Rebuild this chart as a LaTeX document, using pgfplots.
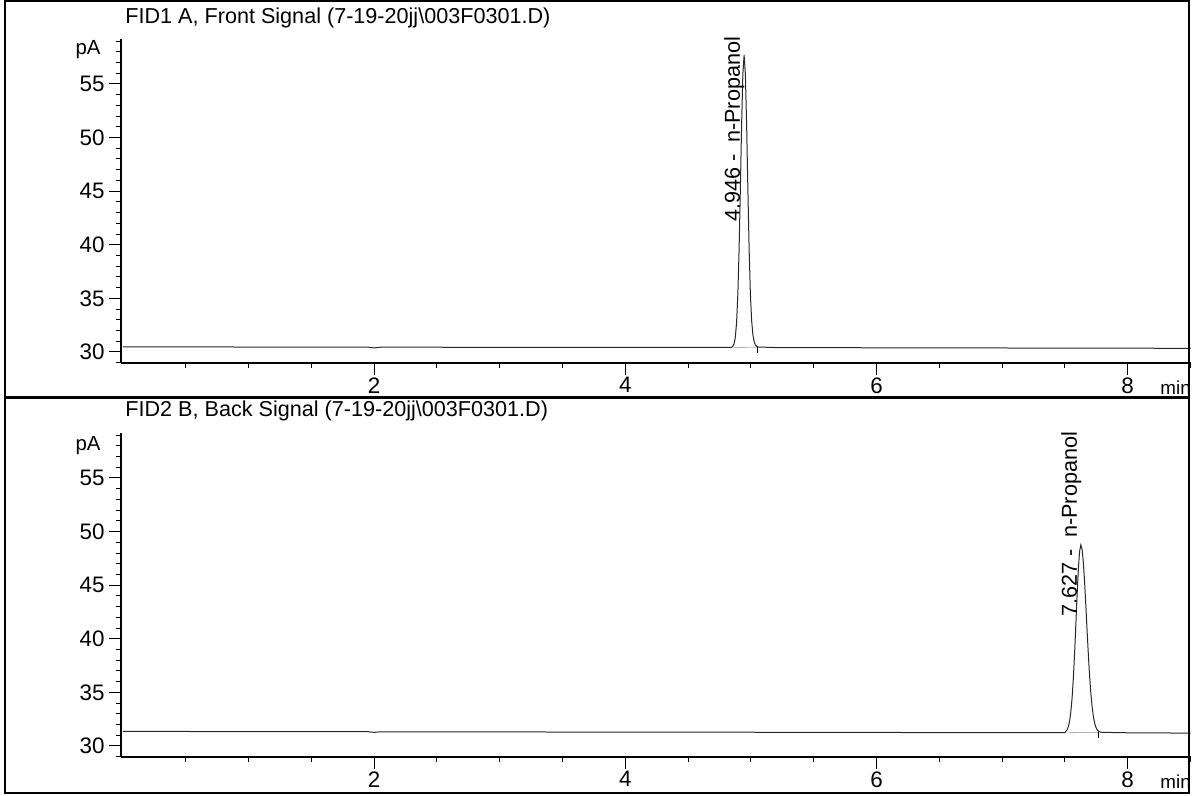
\documentclass[border=0pt]{standalone}
\usepackage{fontspec}
\setmainfont{Liberation Sans}
\usepackage{pgfplots}
\pgfplotsset{compat=1.18}
\begin{document}
\fontsize{10.8}{13}\selectfont
\begin{tikzpicture}
\pgfplotsset{
 chrom/.style={
  x=62.8pt, y=5.36pt,
  xmin=-0.015, xmax=8.5, ymin=28.97, ymax=59.2,
  axis x line=bottom, axis y line=left,
  axis line style={-, line width=0.6pt, black},
  tick align=outside,
  major tick length=5.8pt, minor tick length=2.5pt,
  tick style={line width=0.5pt, black},
  xtick={2,4,6,8}, minor xtick={0.5,1,...,8.5},
  ytick={30,35,...,55}, minor ytick={29,30,...,59},
  /pgf/number format/assume math mode=true,
  tick label style={font=\fontsize{11.2}{13}\selectfont},
  xticklabel style={inner sep=1.2pt},
  yticklabel style={inner sep=2.2pt},
  clip mode=individual,
  anchor=south west,
 }
}
% ---------- top panel ----------
\begin{axis}[chrom, at={(60.5pt,-181.5pt)}]
\addplot[gray!60, line width=0.4pt] coordinates {(4.866,30.42) (5.055,30.44)};
\addplot[black!85, line width=0.5pt] coordinates {
(0,30.48) (0.5,30.47) (1,30.46) (1.5,30.45) (1.95,30.45) (2.0,30.38) (2.05,30.44)
(2.5,30.44) (3,30.43) (3.5,30.43) (4,30.42) (4.5,30.42) (4.8,30.42) (4.846,30.43)
(4.856,30.52) (4.866,30.76) (4.876,31.37) (4.886,32.73) (4.896,35.34) (4.906,39.54)
(4.916,45.12) (4.926,51.17) (4.936,55.9) (4.946,57.7) (4.956,55.9) (4.966,51.17)
(4.976,45.12) (4.986,39.54) (4.996,35.4) (5.006,32.9) (5.016,31.6) (5.026,30.95)
(5.036,30.65) (5.046,30.52) (5.06,30.46) (5.2,30.41) (5.5,30.4) (6,30.39) (6.5,30.38)
(7,30.37) (7.5,30.36) (8,30.35) (8.5,30.34)};
\addplot[black, line width=0.45pt] coordinates {(5.055,30.45) (5.055,29.9)};
\node[rotate=90, anchor=base west, inner sep=0pt, font=\fontsize{10.8}{13}\selectfont] at (axis cs:4.912,42.1) {4.946 -\ \ n-Propanol};
\end{axis}
% ---------- bottom panel ----------
\begin{axis}[chrom, at={(60.5pt,-378.5pt)}]
\addplot[gray!60, line width=0.4pt] coordinates {(7.527,31.24) (7.77,31.27)};
\addplot[black!85, line width=0.5pt] coordinates {
(0,31.36) (0.5,31.35) (1,31.34) (1.5,31.33) (1.95,31.33) (2.0,31.27) (2.05,31.32)
(2.5,31.32) (3,31.31) (3.5,31.3) (4,31.3) (4.5,31.29) (5,31.28) (5.5,31.27) (6,31.26)
(6.5,31.25) (7,31.24) (7.5,31.24)
(7.507,31.36) (7.517,31.5) (7.527,31.79) (7.537,32.3) (7.547,33.15) (7.557,34.45)
(7.567,36.27) (7.577,38.61) (7.587,41.30) (7.597,44.07) (7.607,46.49) (7.617,48.16)
(7.627,48.75) (7.637,48.32) (7.647,47.10) (7.657,45.26) (7.667,43.04) (7.677,40.68)
(7.687,38.44) (7.697,36.46) (7.707,34.84) (7.717,33.61) (7.727,32.72) (7.737,32.12)
(7.747,31.74) (7.757,31.51) (7.767,31.38) (7.777,31.31) (7.8,31.27) (8,31.23) (8.5,31.2)};
\addplot[black, line width=0.45pt] coordinates {(7.77,31.27) (7.77,30.7)};
\node[rotate=90, anchor=base west, inner sep=0pt, font=\fontsize{10.8}{13}\selectfont] at (axis cs:7.595,42.0) {7.627 -\ \ n-Propanol};
\end{axis}
% ---------- frames and texts ----------
\draw[line width=0.6pt] (2.5pt,-0.5pt) rectangle (594.5pt,-198.5pt);
\draw[line width=0.6pt] (2.5pt,-199pt) rectangle (594.5pt,-396.5pt);
\node[anchor=west, inner sep=0pt] at (62.5pt,-9pt) {FID1 A, Front Signal (7-19-20jj\textbackslash 003F0301.D)};
\node[anchor=west, inner sep=0pt] at (62.5pt,-205.5pt) {FID2 B, Back Signal (7-19-20jj\textbackslash 003F0301.D)};
\node[anchor=east, inner sep=0pt, font=\fontsize{10.2}{12}\selectfont] at (50.5pt,-25pt) {pA};
\node[anchor=east, inner sep=0pt, font=\fontsize{10.2}{12}\selectfont] at (50.5pt,-223pt) {pA};
\node[anchor=base west, inner sep=0pt, font=\fontsize{9.4}{11}\selectfont] at (580pt,-197pt) {min};
\node[anchor=base west, inner sep=0pt, font=\fontsize{9.4}{11}\selectfont] at (580pt,-394pt) {min};
\pgfresetboundingbox
\path (0pt,0pt) rectangle (596.5pt,-398pt);
\end{tikzpicture}
\end{document}
